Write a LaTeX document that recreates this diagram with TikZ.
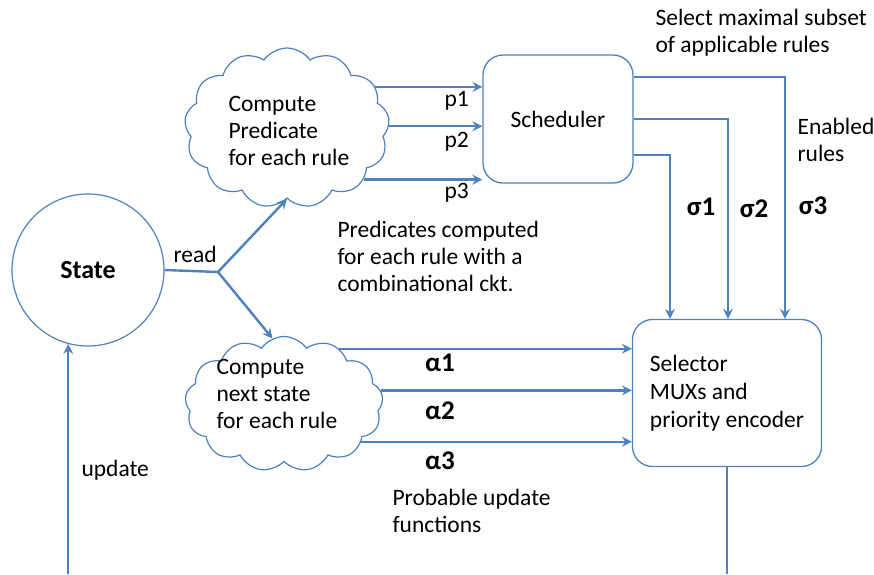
\documentclass[tikz,border=0pt]{standalone}
\usepackage{fontspec}
\setmainfont{Carlito}
\usetikzlibrary{shapes.symbols,arrows.meta}
\definecolor{lineblue}{RGB}{79,129,189}
\begin{document}
\begin{tikzpicture}[x=1pt, y=-1pt, >={Stealth[length=10pt,width=10pt,inset=3.5pt]},
 wire/.style={draw=lineblue, line width=2.4pt},
 box/.style={draw=lineblue, line width=1.3pt, rounded corners=20pt, fill=white, align=left, font=\fontsize{23.5}{28}\selectfont},
 puff/.style={cloud, cloud puffs=13, cloud puff arc=110, draw=lineblue, line width=1.2pt, fill=white, inner sep=0pt},
 txt/.style={align=left, anchor=west, font=\fontsize{23.5}{27}\selectfont},
 greek/.style={font=\bfseries\fontsize{27}{30}\selectfont}]
 \useasboundingbox (0,0) rectangle (874,574);
 \node[circle, draw=lineblue, line width=1.2pt, minimum size=152pt, font=\bfseries\fontsize{26}{30}\selectfont] (state) at (88,270) {State};
 \node[puff, minimum width=205pt, minimum height=160pt] (pred) at (287,128) {};
 \node[txt] (predtext) at (225,131) {Compute\\Predicate\\for each rule};
 \node[puff, minimum width=198pt, minimum height=135pt] (next) at (284,404) {};
 \node[txt] (nexttext) at (213,394) {Compute\\next state\\for each rule};
 \node[box, minimum width=150pt, minimum height=128pt] (sched) at (558,119) {Scheduler};
 \node[box, minimum width=189pt, minimum height=147pt] (sel) at (727,393) {Selector\\MUXs and\\priority encoder};
 \coordinate (fork) at (218,272);
 \coordinate (bot) at (0,574);
 \coordinate (col1) at (670,0);
 \coordinate (col2) at (728,0);
 \coordinate (col3) at (785,0);
 \draw[wire] (state.east) -- (fork);
 \draw[wire,->] (fork) -- (pred.south);
 \draw[wire,->] (fork) -- (next.100);
 \node[txt] (read) at (170,254) {read};
 \foreach \a/\n/\y in {25/1/101, 1/2/142, -34/3/193}
 {
     \draw[wire,->] (pred.\a) -- (pred.\a -| sched.west);
     \node[txt] (plab\n) at (441,\y) {p\n};
 }
 \foreach \s/\n in {-36/1, 0/2, 42/3}
 {
     \draw[wire,->] ([yshift=\s pt]sched.east) -| (sel.north -| col\n);
 }
 \node[greek] (sig1) at (701,207) {σ1};
 \node[greek] (sig2) at (754,209) {σ2};
 \node[greek] (sig3) at (813,206) {σ3};
 \foreach \a/\n/\y in {45/1/363, 8/2/411, -26/3/461}
 {
     \draw[wire,->] (next.\a) -- (next.\a -| sel.west);
     \node[greek] (alab\n) at (440,\y) {α\n};
 }
 \draw[wire,<-] (state.255) -- (state.255 |- bot);
 \draw[wire] (sel.south) -- (sel.south |- bot);
 \node[txt] (upd) at (78,470) {update};
 \node[txt] (selnote) at (652,33) {Select maximal subset\\of applicable rules};
 \node[txt] (ennote) at (794,140) {Enabled\\rules};
 \node[txt] (prednote) at (334,256) {Predicates computed\\for each rule with a\\combinational ckt.};
 \node[txt] (updnote) at (389,511) {Probable update\\functions};
\end{tikzpicture}
\end{document}
